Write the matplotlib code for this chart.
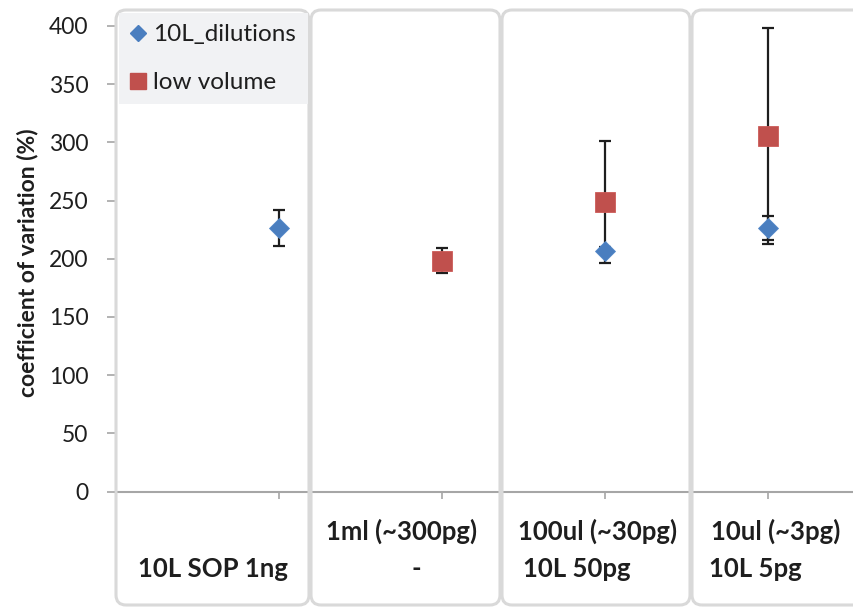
import numpy as np
import matplotlib
matplotlib.use("Agg")
import matplotlib.pyplot as plt
from matplotlib.patches import FancyBboxPatch, Rectangle
from matplotlib.lines import Line2D
from matplotlib.transforms import IdentityTransform

# ---------------- data ----------------
categories = ["10L SOP 1ng", "1ml (~300pg)\n-", "100ul (~30pg)\n10L 50pg", "10ul (~3pg)\n10L 5pg"]
dilutions_cv = [226.5, np.nan, 207.0, 226.7]
dilutions_err = [15.5, np.nan, 3.0, 10.3]
lowvol_cv = [np.nan, 198.3, 248.5, 305.5]
lowvol_err = [np.nan, 10.8, 52.3, 92.5]
series_names = ["10L_dilutions", "low volume"]
y_ticks = [0, 50, 100, 150, 200, 250, 300, 350, 400]

# ---------------- style ----------------
plt.rcParams['font.family'] = ['Lato', 'DejaVu Sans']
BLUE = '#4a7ebf'
RED = '#c0504d'
TXT = '#1e1e1e'
GRID = '#a6a6a6'
PANEL = '#d9d9d9'

W, H = 854, 607
fig = plt.figure(figsize=(W / 100, H / 100), dpi=100)
fig.patch.set_facecolor('white')

def fx(px):
    return px / W

def fy(py):
    return 1 - py / H

# axes: y=0 at pixel 491.5, y=400 at pixel 26 ; category spacing 163 px, first at 278.7
ax_left, ax_right = 115, 854
ax = fig.add_axes([fx(ax_left), fy(491.5), (ax_right - ax_left) / W, (491.5 - 26) / H])
ax.set_facecolor('none')
x0_px, dx_px = 278.7, 163.0
ax.set_xlim((ax_left - x0_px) / dx_px, (ax_right - x0_px) / dx_px)
ax.set_ylim(0, 400)

x = np.arange(len(categories))

ax.errorbar(x, lowvol_cv, yerr=lowvol_err, fmt='none', ecolor=TXT,
            elinewidth=1.6, capsize=4.5, capthick=1.6, zorder=3)
ax.errorbar(x, dilutions_cv, yerr=dilutions_err, fmt='none', ecolor=TXT,
            elinewidth=1.6, capsize=4.5, capthick=1.6, zorder=3)
ax.plot(x, lowvol_cv, linestyle='none', marker='s', markersize=14.5,
        markerfacecolor=RED, markeredgecolor='#cd5b58', markeredgewidth=0.6, zorder=4)
ax.plot(x, dilutions_cv, linestyle='none', marker='D', markersize=10.5,
        markerfacecolor=BLUE, markeredgecolor='#5489c9', markeredgewidth=0.6, zorder=5)

for s in ['top', 'right', 'left']:
    ax.spines[s].set_visible(False)
ax.spines['bottom'].set_color(GRID)
ax.spines['bottom'].set_linewidth(1.5)

ax.set_yticks(y_ticks)
ax.set_yticklabels([str(v) for v in y_ticks])
ax.tick_params(axis='y', length=6, width=1.2, color=GRID, pad=13,
               labelsize=16.5, labelcolor=TXT)
ax.set_xticks(x)
ax.set_xticklabels([''] * len(x))
ax.tick_params(axis='x', length=5, width=1.2, color=GRID)

fig.text(fx(28), fy(263), "coefficient of variation (%)", rotation=90,
         ha='center', va='center', fontsize=16.5, fontweight='bold', color=TXT)

# category labels (line centers in pixels)
line_layout = [
    [(213, 569)],
    [(402, 531), (416, 569)],
    [(598, 531), (577, 569)],
    [(776, 531), (755, 569)],
]
for lab, lay in zip(categories, line_layout):
    for txt, (px, py) in zip(lab.split("\n"), lay):
        fig.text(fx(px), fy(py), txt, ha='center', va='center',
                 fontsize=18.5, fontweight='bold', color=TXT)

# panel frames (rounded boxes)
panels = [(116, 309), (311, 500), (502, 690), (692, 890)]
top_px, bot_px = 10, 605
for (l, r) in panels:
    p = FancyBboxPatch((l, H - bot_px), r - l, bot_px - top_px,
                       boxstyle="round,pad=0,rounding_size=10",
                       transform=IdentityTransform(), facecolor='none',
                       edgecolor=PANEL, linewidth=2.2, zorder=1)
    fig.patches.append(p)

# legend background
fig.patches.append(Rectangle((119, H - 104), 308 - 119, 104 - 13,
                             transform=IdentityTransform(), facecolor='#f1f2f4',
                             edgecolor='none', zorder=2))

handles = [
    Line2D([], [], linestyle='none', marker='D', markersize=8.5,
           markerfacecolor=BLUE, markeredgecolor=BLUE),
    Line2D([], [], linestyle='none', marker='s', markersize=12,
           markerfacecolor=RED, markeredgecolor=RED),
]
leg = fig.legend(handles, series_names, loc='upper left',
                 bbox_to_anchor=(fx(119), fy(14)), borderaxespad=0,
                 frameon=False, fontsize=17.5, borderpad=0.42,
                 handlelength=0.75, handletextpad=0.22, labelspacing=1.12,
                 labelcolor=TXT)
leg.set_zorder(6)

fig.savefig("out.png", dpi=100)
